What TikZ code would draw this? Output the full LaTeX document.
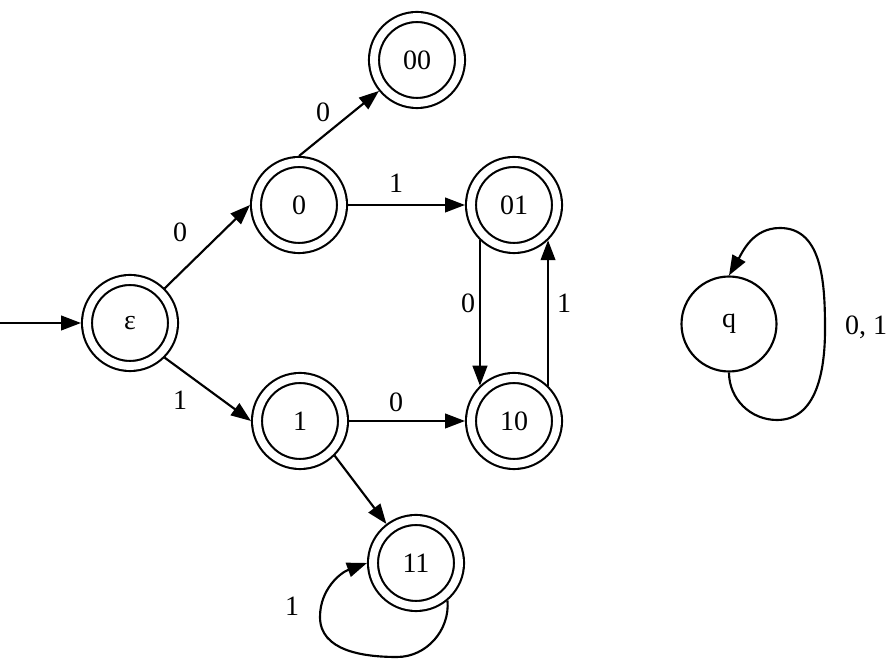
\documentclass[tikz,border=0pt]{standalone}
\usepackage{fontspec}
\setmainfont{Liberation Serif}
\usetikzlibrary{arrows.meta}
\begin{document}
\begin{tikzpicture}[x=0.75pt,y=0.75pt,
  every node/.style={font=\fontsize{21}{25}\selectfont},
  acc/.style={draw, circle, line width=1.6pt, minimum size=64.5pt, inner sep=0pt,
              double, double distance=5.9pt, outer sep=4.5pt},
  st/.style={draw, circle, line width=1.6pt, minimum size=71.25pt, inner sep=0pt},
  lbl/.style={inner sep=1pt},
  trans/.style={line width=1.6pt, -{Triangle[length=15pt,width=11pt]}},
  ]
\useasboundingbox (0,0) rectangle (886,660);

% states
\node[acc] (e)   at (130,337) {ε};
\node[acc] (s0)  at (299,455) {0};
\node[acc] (s1)  at (300,239) {1};
\node[acc] (s00) at (417,600) {00};
\node[acc] (s01) at (514,455) {01};
\node[acc] (s10) at (514,239) {10};
\node[acc] (s11) at (416,97)  {11};
\node[st]  (q)   at (729,336) {q};

% start
\coordinate (start) at (0,337);
\draw[trans] (start) -- (e.west);

% transitions
\draw[trans] (e.north east) -- (s0.west);
\draw[trans] (e.south east) -- (s1.west);
\draw[trans] (s0.north) -- (s00);
\draw[trans] (s0.east) -- (s01.west);
\draw[trans] (s1.east) -- (s10.west);
\draw[trans] (s1.south east) -- (s11);
\draw[trans] (s01.226) -- (s10.134);
\draw[trans] (s10.46) -- (s01.-46);

% loop on 11
\coordinate (b1) at (397,3);
\coordinate (b2) at (320,43);
\draw[trans] (s11.-50) to[out=-85,in=0] (b1) to[out=180,in=-90] (b2) to[out=90,in=200] (s11.west);

% loop on q
\coordinate (c1) at (777,240);
\coordinate (c2) at (825,330);
\coordinate (c3) at (780,432);
\draw[trans] (q.south) to[out=-90,in=180] (c1) to[out=0,in=-90] (c2) to[out=90,in=0] (c3) to[out=180,in=60] (q.north);

% labels
\node[lbl] (l1) at (180,428) {0};
\node[lbl] (l2) at (180,260) {1};
\node[lbl] (l3) at (323,548) {0};
\node[lbl] (l4) at (396,477) {1};
\node[lbl] (l5) at (396,258) {0};
\node[lbl] (l6) at (468,357) {0};
\node[lbl] (l7) at (564,357) {1};
\node[lbl] (l8) at (292,54)  {1};
\node[lbl] (l9) at (866,333) {0, 1};
\end{tikzpicture}
\end{document}
